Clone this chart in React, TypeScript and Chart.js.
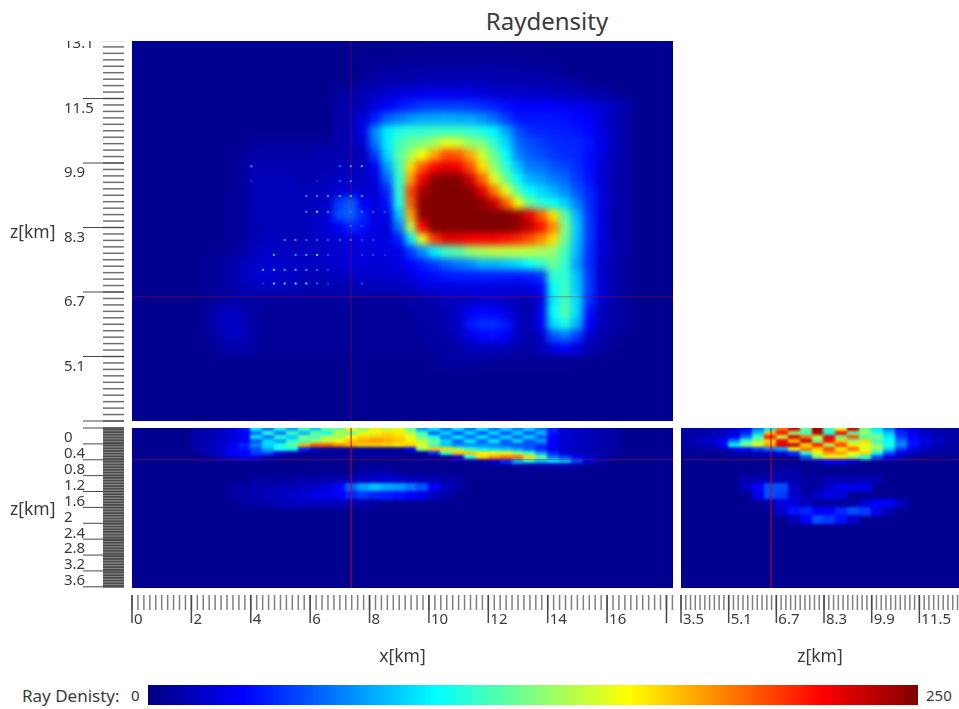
import React, { useEffect, useRef } from "react";
import { Chart, registerables } from "chart.js";

Chart.register(...registerables);

const FONT = '"Noto Sans", "Open Sans", sans-serif';
const TEXT = "#3a3a3a";

// Tick values
const xLabels = [0, 2, 4, 6, 8, 10, 12, 14, 16];
const xMajor = [0, 2, 4, 6, 8, 10, 12, 14, 16, 18];
const xMinorStep = 0.2;
const xMax = 18.22;

const topZLabels = [5.1, 6.7, 8.3, 9.9, 11.5, 13.1];
const topZMajor = [3.5, 5.1, 6.7, 8.3, 9.9, 11.5, 13.1];
const zMinorStep = 0.16;

const depthLabels = [0, 0.4, 0.8, 1.2, 1.6, 2, 2.4, 2.8, 3.2, 3.6];
const depthMajor = [0, 0.4, 0.8, 1.2, 1.6, 2, 2.4, 2.8, 3.2, 3.6, 4];
const depthMinorStep = 0.04;
const depthMax = 4.03;

const sideLabels = [3.5, 5.1, 6.7, 8.3, 9.9, 11.5];
const sideMajor = [3.5, 5.1, 6.7, 8.3, 9.9, 11.5];
const sideMax = 12.83;

// Crosshair
const crossX = 7.38;
const crossZ = 6.58;
const crossSideZ = 6.52;
const crossDepth = 0.8;

// Colour scale
const rayMin = 0;
const rayMax = 250;
const background = 4;

// Heat cells: [first column, values...], one row per z level
const topDensity: [number, number[]][] = [
  [25, [6, 6, 6, 6, 6, 6]],
  [22, [6, 6, 6, 6, 6, 6, 6, 6, 6, 6, 6, 6]],
  [20, [8, 8, 8, 9, 9, 10, 10, 10, 10, 10, 10, 9, 9, 8, 8, 8]],
  [19, [8, 10, 12, 12, 12, 14, 14, 14, 14, 14, 14, 13, 12, 12, 12, 12, 10, 10, 8]],
  [17, [8, 10, 12, 16, 20, 24, 26, 26, 28, 28, 26, 26, 24, 20, 20, 20, 18, 18, 16, 16, 14, 12, 10, 8]],
  [17, [10, 12, 14, 22, 30, 36, 40, 44, 46, 46, 46, 44, 42, 38, 34, 30, 30, 30, 30, 28, 26, 24, 20, 16, 12]],
  [17, [10, 14, 22, 38, 55, 62, 68, 72, 72, 74, 72, 72, 66, 58, 46, 36, 36, 36, 36, 34, 32, 30, 22, 14, 10]],
  [17, [10, 14, 26, 65, 90, 100, 105, 105, 108, 108, 108, 106, 100, 92, 72, 52, 42, 40, 38, 38, 36, 32, 24, 16, 10]],
  [10, [8, 8, 8, 8, 8, 8, 8, 10, 14, 20, 60, 90, 110, 120, 125, 135, 150, 145, 130, 125, 105, 85, 58, 50, 46, 42, 40, 40, 36, 26, 16, 10]],
  [8, [6, 8, 10, 10, 10, 10, 10, 12, 12, 12, 12, 14, 45, 85, 115, 135, 155, 178, 200, 198, 178, 145, 120, 95, 65, 55, 50, 45, 42, 40, 34, 24, 14, 10]],
  [8, [6, 8, 12, 12, 12, 12, 12, 12, 12, 14, 14, 14, 30, 70, 110, 165, 198, 218, 225, 222, 200, 165, 130, 105, 80, 62, 60, 52, 48, 42, 34, 22, 12, 10]],
  [8, [6, 8, 14, 14, 14, 14, 12, 12, 14, 16, 16, 16, 22, 55, 105, 180, 222, 246, 250, 248, 230, 195, 150, 120, 95, 75, 70, 62, 56, 45, 36, 22, 12, 10]],
  [8, [6, 8, 14, 14, 14, 14, 14, 14, 16, 20, 22, 20, 20, 40, 105, 202, 240, 250, 250, 250, 248, 226, 190, 150, 115, 95, 85, 75, 65, 52, 40, 24, 12, 10]],
  [8, [6, 8, 14, 14, 14, 14, 14, 16, 18, 45, 55, 30, 22, 35, 100, 195, 248, 250, 250, 250, 250, 246, 232, 196, 155, 120, 105, 95, 82, 62, 42, 24, 12, 10]],
  [8, [6, 8, 14, 14, 14, 14, 14, 16, 22, 50, 55, 38, 24, 25, 80, 178, 245, 250, 250, 250, 250, 250, 250, 250, 245, 226, 196, 165, 115, 75, 44, 24, 12, 10]],
  [8, [6, 8, 12, 14, 14, 14, 16, 18, 22, 30, 40, 35, 24, 22, 60, 138, 218, 250, 250, 250, 250, 250, 250, 250, 245, 235, 215, 185, 125, 80, 45, 24, 12, 10]],
  [8, [6, 8, 14, 14, 14, 14, 14, 16, 18, 20, 24, 24, 24, 24, 38, 88, 150, 205, 225, 225, 220, 220, 220, 215, 210, 200, 185, 165, 120, 78, 45, 24, 12, 10]],
  [7, [6, 7, 10, 16, 18, 16, 16, 16, 16, 18, 20, 22, 22, 22, 24, 25, 45, 65, 90, 110, 115, 130, 135, 140, 140, 140, 140, 135, 130, 110, 75, 42, 22, 12, 10]],
  [6, [6, 7, 10, 14, 18, 20, 18, 18, 16, 16, 18, 20, 22, 22, 20, 22, 24, 30, 38, 45, 55, 60, 65, 75, 75, 80, 85, 95, 105, 120, 105, 70, 42, 20, 12, 8]],
  [6, [6, 7, 12, 16, 20, 20, 18, 16, 14, 14, 14, 16, 16, 18, 18, 18, 20, 24, 30, 34, 36, 38, 38, 38, 38, 38, 36, 38, 44, 105, 105, 78, 44, 20, 12, 8]],
  [6, [6, 7, 10, 12, 14, 16, 14, 14, 12, 12, 12, 12, 12, 14, 14, 14, 14, 16, 20, 22, 24, 24, 24, 24, 22, 22, 22, 24, 30, 95, 110, 80, 45, 22, 12, 8]],
  [6, [6, 8, 10, 10, 8, 8, 8, 8, 8, 8, 8, 8, 8, 8, 8, 8, 8, 10, 10, 12, 14, 14, 16, 20, 20, 18, 14, 12, 22, 90, 110, 85, 42, 20, 12, 8]],
  [6, [8, 14, 16, 12, 8, 6, 6, 6, 6, 6, 6, 6, 6, 6, 6, 6, 6, 8, 10, 10, 12, 18, 28, 32, 30, 24, 14, 12, 28, 95, 115, 85, 35, 16, 10, 8]],
  [6, [8, 16, 18, 14, 8, 6, 6, 6, 6, 6, 6, 6, 6, 6, 6, 6, 6, 6, 8, 10, 12, 18, 36, 42, 42, 36, 18, 12, 28, 85, 100, 75, 30, 14, 10, 8]],
  [6, [6, 12, 16, 14, 8, 6, 6, 6, 6, 6, 6, 6, 6, 6, 6, 6, 6, 6, 8, 8, 10, 14, 24, 32, 34, 30, 16, 10, 16, 50, 60, 45, 20, 10, 8]],
  [7, [8, 10, 10, 8, 6, 6, 6, 6, 6, 6, 6, 6, 6, 6, 6, 6, 6, 6, 8, 8, 10, 14, 16, 16, 14, 10, 8, 14, 25, 30, 22, 12, 8]],
  [25, [6, 8, 8, 8, 8, 6, 6, 6, 6, 6, 6, 6]],
];

const sectionDensity: [number, number[]][] = [
  [5, [10, 12, 15, 20, 35, 90, 60, 100, 70, 110, 80, 120, 120, 150, 130, 160, 140, 150, 120, 70, 90, 60, 90, 60, 90, 60, 85, 60, 85, 60, 40, 20, 18, 15, 12, 10]],
  [5, [10, 12, 15, 22, 30, 55, 105, 60, 110, 75, 120, 95, 140, 120, 150, 150, 165, 160, 140, 110, 55, 85, 50, 85, 50, 85, 50, 85, 50, 75, 35, 20, 16, 14, 12, 10]],
  [5, [10, 12, 15, 20, 25, 90, 60, 105, 80, 125, 110, 140, 130, 155, 165, 170, 170, 165, 150, 120, 100, 60, 90, 55, 90, 55, 85, 55, 85, 55, 30, 20, 16, 14, 12, 10]],
  [5, [10, 12, 16, 24, 30, 50, 85, 70, 105, 110, 130, 140, 155, 170, 178, 182, 178, 170, 160, 140, 120, 85, 55, 90, 55, 90, 55, 85, 50, 70, 30, 20, 16, 14, 12, 10]],
  [5, [10, 14, 18, 26, 40, 65, 85, 100, 120, 175, 195, 195, 185, 175, 168, 168, 165, 160, 165, 150, 110, 80, 65, 65, 65, 60, 55, 50, 50, 45, 30, 22, 16, 14, 12, 10]],
  [5, [10, 14, 18, 30, 35, 50, 75, 100, 95, 40, 15, 10, 8, 8, 8, 8, 8, 8, 30, 130, 170, 165, 130, 105, 90, 85, 80, 70, 55, 40, 25, 18, 14, 12, 10, 8]],
  [6, [12, 18, 28, 30, 45, 50, 25, 10, 6, 6, 6, 6, 6, 6, 6, 6, 6, 6, 6, 40, 110, 170, 170, 160, 150, 150, 130, 110, 70, 40, 20, 16, 14, 10, 8]],
  [7, [15, 20, 25, 25, 12, 6, 6, 6, 6, 6, 6, 6, 6, 6, 6, 6, 6, 6, 6, 6, 25, 100, 165, 180, 190, 190, 165, 120, 60, 45, 30, 20, 12]],
  [28, [10, 12, 20, 40, 70, 100, 80, 90, 80, 50, 20, 10]],
  [33, [10, 12, 14, 14, 10]],
  [19, [8, 10, 10]],
  [10, [8, 8, 8, 8, 10, 10, 10, 12, 14, 16, 18, 20, 18, 16, 14, 12, 10, 8]],
  [8, [8, 10, 12, 12, 14, 14, 16, 18, 22, 32, 55, 70, 78, 72, 68, 60, 50, 30, 16, 10]],
  [8, [8, 10, 12, 14, 16, 18, 20, 24, 26, 30, 40, 45, 40, 38, 35, 30, 25, 16, 10]],
  [9, [8, 10, 12, 14, 14, 16, 16, 16, 14, 12, 10, 8]],
];

const sideDensity: [number, number[]][] = [
  [0, [10, 10, 12, 15, 20, 30, 60, 90, 190, 230, 120, 240, 110, 150, 230, 120, 90, 60, 35, 25, 15, 12, 10, 8]],
  [0, [10, 10, 12, 15, 22, 40, 80, 170, 215, 130, 110, 235, 100, 220, 115, 135, 100, 80, 40, 25, 18, 12, 10, 8]],
  [0, [10, 12, 15, 18, 30, 60, 110, 215, 140, 230, 190, 135, 225, 120, 200, 110, 130, 90, 45, 30, 20, 15, 10, 8]],
  [0, [12, 15, 18, 30, 60, 105, 130, 165, 220, 170, 235, 125, 215, 170, 125, 165, 105, 95, 60, 35, 25, 15, 12, 8]],
  [0, [10, 12, 15, 28, 95, 125, 150, 180, 225, 235, 165, 215, 135, 205, 160, 150, 130, 100, 65, 35, 22, 15, 10, 8]],
  [0, [8, 8, 10, 12, 25, 35, 45, 60, 75, 150, 190, 165, 205, 160, 195, 150, 130, 85, 45, 25, 15, 10, 8, 8]],
  [4, [10, 12, 15, 18, 22, 40, 110, 160, 180, 180, 155, 165, 100, 50, 25, 15, 10, 8, 8, 8]],
  [10, [50, 120, 150, 150, 130, 100, 50, 25, 15]],
  [11, [15, 30, 30, 20]],
  [0, []],
  [7, [8, 10, 10]],
  [5, [12, 12, 12, 12, 12, 8, 8, 12, 12, 12, 12, 12]],
  [5, [15, 30, 50, 50, 18, 8, 8, 18, 28, 25, 25]],
  [6, [25, 50, 45, 20, 10, 18, 25, 22]],
  [7, [12, 25, 22, 15, 8, 8, 8, 8, 20, 30, 30, 15]],
  [8, [20, 35, 40, 30, 30, 40, 50, 45, 25, 12]],
  [9, [12, 30, 50, 45, 35, 18]],
];

// Depth rows shared by both lower panels: centres and heights in km
const depthRows = [0.05, 0.15, 0.25, 0.35, 0.45, 0.55, 0.65, 0.75, 0.85, 0.95, 1.1, 1.3, 1.5, 1.7, 1.9, 2.1, 2.3];
const depthHeights = [0.1, 0.1, 0.1, 0.1, 0.1, 0.1, 0.1, 0.1, 0.1, 0.1, 0.2, 0.2, 0.2, 0.2, 0.2, 0.2, 0.2];

// Faint lattice of bright dots in the upper panel
const latticeX = [4.02, 4.41, 4.78, 5.14, 5.51, 5.87, 6.23, 6.6, 7.0, 7.37, 7.74, 8.12, 8.51];
const latticeZ = [9.82, 9.45, 9.08, 8.69, 8.34, 7.99, 7.62, 7.25, 6.91];
const latticeLevels = [
  [75, 0, 0, 0, 0, 0, 0, 0, 60, 85, 85, 0, 0],
  [45, 0, 0, 0, 0, 0, 40, 0, 55, 75, 0, 0, 0],
  [0, 0, 0, 0, 0, 70, 70, 75, 80, 95, 80, 0, 0],
  [0, 0, 0, 0, 0, 75, 105, 75, 0, 70, 70, 65, 55],
  [0, 0, 0, 0, 0, 0, 0, 0, 0, 65, 55, 0, 0],
  [0, 0, 0, 70, 75, 60, 60, 55, 65, 70, 55, 55, 0],
  [0, 0, 85, 0, 75, 85, 105, 55, 0, 0, 50, 55, 45],
  [0, 85, 95, 80, 85, 75, 60, 50, 0, 0, 0, 0, 0],
  [0, 45, 95, 90, 105, 95, 60, 50, 0, 0, 55, 0, 0],
];

const jet = (v: number) => {
  const t = Math.min(1, Math.max(0, (v - rayMin) / (rayMax - rayMin)));
  const c = (k: number) => Math.round(255 * Math.min(1, Math.max(0, 1.5 - Math.abs(4 * t - k))));
  return `rgb(${c(3)},${c(2)},${c(1)})`;
};

const rangeBy = (from: number, to: number, step: number) => {
  const out: number[] = [];
  const n = Math.round((to - from) / step);
  for (let i = 0; i <= n; i++) out.push(+(from + i * step).toFixed(3));
  return out;
};

type Cell = { x: number; y: number; v: number; dx: number; dy: number };

const cellCache = new Map<string, HTMLCanvasElement>();
const cellStyle = (ctx: any) => {
  const raw = ctx.raw as Cell | undefined;
  if (!raw) return "rect";
  const { x: sx, y: sy } = ctx.chart.scales;
  const w = Math.ceil(Math.abs(sx.getPixelForValue(raw.x + raw.dx) - sx.getPixelForValue(raw.x))) + 1;
  const h = Math.ceil(Math.abs(sy.getPixelForValue(raw.y + raw.dy) - sy.getPixelForValue(raw.y))) + 1;
  const key = `${raw.v}|${w}|${h}`;
  let c = cellCache.get(key);
  if (!c) {
    c = document.createElement("canvas");
    c.width = w;
    c.height = h;
    const g = c.getContext("2d")!;
    g.fillStyle = jet(raw.v);
    g.fillRect(0, 0, w, h);
    cellCache.set(key, c);
  }
  return c;
};

const cellsFrom = (
  rows: [number, number[]][],
  colWidth: number,
  colStart: number,
  rowY: (r: number) => number,
  rowH: (r: number) => number
) => {
  const cells: Cell[] = [];
  rows.forEach((row, r) => {
    row[1].forEach((v, i) => {
      cells.push({ x: colStart + colWidth * (row[0] + i + 0.5), y: rowY(r), v, dx: colWidth, dy: rowH(r) });
    });
  });
  return cells;
};

const heatDataset = (data: Cell[], blur: number) => ({
  label: "density",
  data,
  blur,
  showLine: false,
  pointStyle: cellStyle,
  pointRadius: 12,
  pointBorderWidth: 0,
});

const dotDataset = (label: string, data: any[], radius: number) => ({
  label,
  data,
  showLine: false,
  pointStyle: "rect",
  pointRadius: radius,
  pointBorderWidth: 0,
  pointBackgroundColor: (c: any) => (c.raw ? jet(c.raw.v) : "#000"),
});

const CROSS_COLOR = "rgba(205,0,30,0.42)";
const crossDatasets = (x: number, y: number, xMin: number, xHi: number, yMin: number, yHi: number) => [
  { label: "crossV", data: [{ x, y: yMin }, { x, y: yHi }], showLine: true, pointRadius: 0, borderWidth: 1, borderColor: CROSS_COLOR },
  { label: "crossH", data: [{ x: xMin, y }, { x: xHi, y }], showLine: true, pointRadius: 0, borderWidth: 1, borderColor: CROSS_COLOR },
];

const panelPlugin = (ticks: {
  xMajor?: number[];
  xMinor?: number[];
  yMajor?: number[];
  yMinor?: number[];
  yMinorColor?: string;
}) => ({
  id: "panelPlugin",
  beforeDatasetsDraw(chart: any) {
    const { ctx, chartArea: a } = chart;
    ctx.save();
    ctx.fillStyle = jet(background);
    ctx.fillRect(a.left, a.top, a.right - a.left, a.bottom - a.top);
    ctx.restore();
  },
  afterDatasetDraw(chart: any, args: any) {
    const ds = chart.data.datasets[args.index];
    if (!ds.blur) return;
    const { ctx, chartArea: a, canvas } = chart;
    const w = a.right - a.left;
    const h = a.bottom - a.top;
    ctx.save();
    ctx.beginPath();
    ctx.rect(a.left, a.top, w, h);
    ctx.clip();
    ctx.filter = `blur(${ds.blur}px)`;
    ctx.drawImage(canvas, a.left, a.top, w, h, a.left, a.top, w, h);
    ctx.restore();
  },
  afterDraw(chart: any) {
    const { ctx, scales } = chart;
    const line = (x0: number, y0: number, x1: number, y1: number, color: string, width: number) => {
      ctx.strokeStyle = color;
      ctx.lineWidth = width;
      ctx.beginPath();
      ctx.moveTo(x0, y0);
      ctx.lineTo(x1, y1);
      ctx.stroke();
    };
    ctx.save();
    (ticks.yMinor || []).forEach((v) => {
      const p = scales.y.getPixelForValue(v);
      line(103, p, 124, p, ticks.yMinorColor || "#6e6e6e", 1.5);
    });
    (ticks.yMajor || []).forEach((v) => {
      const p = scales.y.getPixelForValue(v);
      line(83, p, 124, p, "#484848", 1);
    });
    const base = chart.chartArea.bottom;
    (ticks.xMinor || []).forEach((v) => {
      const p = scales.x.getPixelForValue(v);
      line(p, base + 7, p, base + 22, "#808080", 1.5);
    });
    (ticks.xMajor || []).forEach((v) => {
      const p = scales.x.getPixelForValue(v);
      line(p, base + 7, p, base + 35, "#484848", 1.5);
    });
    ctx.restore();
  },
});

const fixed = (axisSize: { width?: number; height?: number }) => (s: any) => {
  if (axisSize.width !== undefined) s.width = axisSize.width;
  if (axisSize.height !== undefined) s.height = axisSize.height;
  s.paddingTop = 0;
  s.paddingBottom = 0;
  s.paddingLeft = 0;
  s.paddingRight = 0;
};

const labelled = (values: number[]) => (s: any) => {
  s.ticks = values.map((value) => ({ value }));
};

const tickFont = { family: FONT, size: 15 };

const yAxisLabelled = (min: number, max: number, labels: number[], reverse: boolean) => ({
  type: "linear" as const,
  min,
  max,
  reverse,
  position: "left" as const,
  afterBuildTicks: labelled(labels),
  afterFit: fixed({ width: 68 }),
  grid: { display: false },
  border: { display: false },
  ticks: {
    autoSkip: false,
    crossAlign: "far" as const,
    labelOffset: 10,
    font: tickFont,
    color: TEXT,
    callback: (v: any) => String(v),
  },
});

const xAxisLabelled = (min: number, max: number, labels: number[], title: string) => ({
  type: "linear" as const,
  min,
  max,
  position: "bottom" as const,
  afterBuildTicks: labelled(labels),
  afterFit: fixed({ height: 80 }),
  grid: { display: false },
  border: { display: false },
  ticks: {
    autoSkip: false,
    maxRotation: 0,
    minRotation: 0,
    align: "start" as const,
    labelOffset: 2,
    padding: 15,
    font: tickFont,
    color: TEXT,
    callback: (v: any) => String(v),
  },
  title: {
    display: true,
    text: title,
    color: TEXT,
    font: { family: FONT, size: 17.5 },
    padding: { top: 0, bottom: 0 },
  },
});

const hidden = (min: number, max: number, reverse = false) => ({
  type: "linear" as const,
  display: false,
  min,
  max,
  reverse,
});

const baseOptions = {
  responsive: false,
  animation: false as const,
  events: [] as any[],
  plugins: { legend: { display: false }, tooltip: { enabled: false }, title: { display: false } },
};

const depthY = (r: number) => depthRows[r];
const depthH = (r: number) => depthHeights[r];

const Label = ({ x, y, size, children, center }: any) => (
  <div
    style={{
      position: "absolute",
      left: x,
      top: y,
      transform: center ? "translate(-50%, -50%)" : "translateY(-50%)",
      fontFamily: FONT,
      fontSize: size,
      color: TEXT,
      whiteSpace: "nowrap",
      lineHeight: 1,
    }}
  >
    {children}
  </div>
);

export default function App() {
  const topRef = useRef<HTMLCanvasElement>(null);
  const sectionRef = useRef<HTMLCanvasElement>(null);
  const sideRef = useRef<HTMLCanvasElement>(null);
  const barRef = useRef<HTMLCanvasElement>(null);

  useEffect(() => {
    const charts: Chart[] = [];

    const latticeDots: any[] = [];
    latticeLevels.forEach((row, r) =>
      row.forEach((v, c) => {
        if (v > 0) latticeDots.push({ x: latticeX[c], y: latticeZ[r], v });
      })
    );

    charts.push(
      new Chart(topRef.current!, {
        type: "scatter",
        plugins: [panelPlugin({ yMajor: topZMajor, yMinor: rangeBy(3.5, 13.1, zMinorStep) }) as any],
        data: {
          datasets: [
            ...crossDatasets(crossX, crossZ, 0, xMax, 3.5, 13.1),
            dotDataset("lattice", latticeDots, 1.4),
            heatDataset(cellsFrom(topDensity, 0.4, 0, (r) => 12.78 - 0.3 * r, () => 0.3), 3.5),
          ] as any,
        },
        options: {
          ...baseOptions,
          layout: { autoPadding: false, padding: { left: 64, right: 7, top: 0, bottom: 2 } },
          scales: {
            x: hidden(0, xMax),
            y: yAxisLabelled(3.5, 13.1, topZLabels, false),
          },
        } as any,
      })
    );

    charts.push(
      new Chart(sectionRef.current!, {
        type: "scatter",
        plugins: [
          panelPlugin({
            yMajor: depthMajor,
            yMinor: rangeBy(0, 4, depthMinorStep),
            yMinorColor: "#4c4c4c",
            xMajor,
            xMinor: rangeBy(0, 18.2, xMinorStep),
          }) as any,
        ],
        data: {
          datasets: [
            ...crossDatasets(crossX, crossDepth, 0, xMax, 0, depthMax),
            heatDataset(cellsFrom(sectionDensity, 0.4, 0, depthY, depthH), 1.6),
          ] as any,
        },
        options: {
          ...baseOptions,
          layout: { autoPadding: false, padding: { left: 64, right: 7, top: 8, bottom: 0 } },
          scales: {
            x: xAxisLabelled(0, xMax, xLabels, "x[km]"),
            y: yAxisLabelled(0, depthMax, depthLabels, true),
          },
        } as any,
      })
    );

    charts.push(
      new Chart(sideRef.current!, {
        type: "scatter",
        plugins: [panelPlugin({ xMajor: sideMajor, xMinor: rangeBy(3.5, 12.82, zMinorStep) }) as any],
        data: {
          datasets: [
            ...crossDatasets(crossSideZ, crossDepth, 3.5, sideMax, 0, depthMax),
            heatDataset(cellsFrom(sideDensity, 0.4, 3.5, depthY, depthH), 1.8),
          ] as any,
        },
        options: {
          ...baseOptions,
          layout: { autoPadding: false, padding: { left: 11, right: 0, top: 8, bottom: 0 } },
          scales: {
            x: xAxisLabelled(3.5, sideMax, sideLabels, "z[km]"),
            y: hidden(0, depthMax, true),
          },
        } as any,
      })
    );

    charts.push(
      new Chart(barRef.current!, {
        type: "bar",
        data: {
          labels: ["Ray Denisty"],
          datasets: [
            {
              data: [[rayMin, rayMax]],
              barPercentage: 1,
              categoryPercentage: 1,
              borderWidth: 0,
              backgroundColor: (c: any) => {
                const a = c.chart.chartArea;
                if (!a) return jet(rayMin);
                const g = c.chart.ctx.createLinearGradient(a.left, 0, a.right, 0);
                const steps = [0, 0.125, 0.375, 0.625, 0.875, 1];
                steps.forEach((s) => g.addColorStop(s, jet(rayMin + s * (rayMax - rayMin))));
                return g;
              },
            },
          ],
        } as any,
        options: {
          ...baseOptions,
          indexAxis: "y",
          layout: { padding: 0 },
          scales: {
            x: { type: "linear", display: false, min: rayMin, max: rayMax },
            y: { display: false },
          },
        } as any,
      })
    );

    return () => charts.forEach((c) => c.destroy());
  }, []);

  const abs = (left: number, top: number, extra: any = {}) => ({
    position: "absolute" as const,
    left,
    top,
    display: "block",
    ...extra,
  });

  return (
    <div style={{ position: "absolute", left: 0, top: 0, width: 959, height: 709, overflow: "hidden", background: "#fff" }}>
      <canvas ref={topRef} width={680} height={389} style={abs(0, 34, { clipPath: "inset(7px 0 0 0)" })} />
      <canvas ref={sectionRef} width={680} height={248} style={abs(0, 420)} />
      <canvas ref={sideRef} width={289} height={248} style={abs(670, 420)} />
      <canvas ref={barRef} width={770} height={20} style={abs(148, 685)} />
      <Label x={547} y={21} size={24} center>Raydensity</Label>
      <Label x={10} y={232} size={17.5}>z[km]</Label>
      <Label x={10} y={509} size={17.5}>z[km]</Label>
      <Label x={22} y={695} size={17}>Ray Denisty:</Label>
      <Label x={131} y={695} size={15}>0</Label>
      <Label x={926} y={695} size={15}>250</Label>
    </div>
  );
}
